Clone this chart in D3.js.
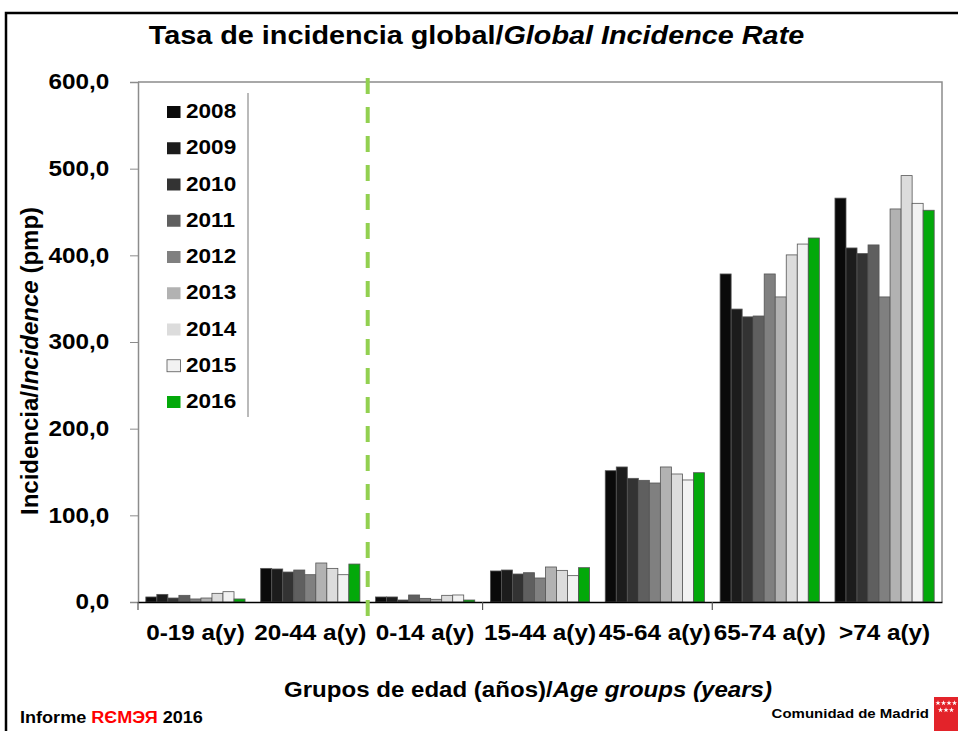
<!doctype html>
<html>
<head>
<meta charset="UTF-8">
<title>Tasa de incidencia global</title>
<style>
  body { margin: 0; background: #fff; }
  text { font-family: "Liberation Sans", Arial, sans-serif; }
</style>
</head>
<body onload="bars()">
<div id="chart"></div>
<script src="https://cdn.jsdelivr.net/npm/d3@7"></script>
<script>
// age groups on the x axis
var groups = ["0-19 a(y)", "20-44 a(y)", "0-14 a(y)", "15-44 a(y)", "45-64 a(y)", "65-74 a(y)", ">74 a(y)"];
var years = ["2008", "2009", "2010", "2011", "2012", "2013", "2014", "2015", "2016"];
var yearColors = ["#0a0a0a", "#1c1c1c", "#333333", "#5f5f5f", "#808080", "#b2b2b2", "#dcdcdc", "#f2f2f2", "#03a90a"];

// incidence (pmp) per year, one value per age group
var v2008 = [5.8, 38.8, 5.8, 35.8, 151.5, 378.5, 466.0];
var v2009 = [8.8, 38.1, 5.8, 36.9, 155.8, 338.0, 408.5];
var v2010 = [4.6, 34.6, 2.3, 32.3, 142.7, 329.0, 402.0];
var v2011 = [7.7, 36.9, 8.1, 33.8, 140.4, 330.0, 412.0];
var v2012 = [3.5, 31.5, 4.2, 27.7, 137.3, 378.5, 352.0];
var v2013 = [4.6, 45.0, 3.1, 40.4, 155.8, 352.0, 453.5];
var v2014 = [10.0, 38.8, 7.7, 36.5, 147.7, 400.5, 492.0];
var v2015 = [11.9, 31.5, 8.1, 30.4, 140.8, 413.0, 460.0];
var v2016 = [3.5, 43.8, 2.3, 39.6, 149.2, 420.0, 452.0];
var series = [v2008, v2009, v2010, v2011, v2012, v2013, v2014, v2015, v2016];

var yTicks = [0, 100, 200, 300, 400, 500, 600];

// the original text is a bit wider than Arial
var SX = 1.13;

function label(sel, x, y, anchor, size, parts, sx) {
  var g = sel.append("g")
    .attr("transform", "translate(" + x + "," + y + ") scale(" + (sx || SX) + ",1)");
  var t = g.append("text")
    .attr("text-anchor", anchor)
    .style("font-size", size + "px")
    .style("font-weight", "bold");
  parts.forEach(function(p) {
    t.append("tspan")
      .text(p[0])
      .style("font-style", p[1] ? "italic" : "normal")
      .attr("fill", p[2] || "#000");
  });
  return g;
}

function bars() {
  var W = 958, H = 731;
  var margin = {top: 82, right: 16, bottom: 129, left: 138},
      width = W - margin.left - margin.right,
      height = H - margin.top - margin.bottom;

  var svg = d3.select("#chart")
    .append("svg")
      .attr("width", W)
      .attr("height", H);

  svg.append("rect").attr("width", W).attr("height", H).attr("fill", "#fff");

  // outer frame (top and left visible)
  svg.append("path")
    .attr("d", "M6," + H + "V13H" + W)
    .attr("fill", "none")
    .attr("stroke", "#000")
    .attr("stroke-width", 2.5);

  var g = svg.append("g")
    .attr("transform", "translate(" + margin.left + "," + margin.top + ")");

  var x0 = d3.scaleBand()
    .domain(groups)
    .range([0, width])
    .padding(0);

  var x1 = d3.scaleBand()
    .domain(years)
    .range([0, x0.bandwidth()])
    .paddingInner(0)
    .paddingOuter(0.71);

  var y = d3.scaleLinear()
    .domain([0, 600])
    .range([height, 0]);

  // plot frame: top and right in grey
  g.append("path")
    .attr("d", "M0,0H" + width + "V" + height)
    .attr("fill", "none")
    .attr("stroke", "#8c8c8c")
    .attr("stroke-width", 1.5);

  // Y axis
  var yAxis = g.append("g")
    .call(d3.axisLeft(y)
      .tickValues(yTicks)
      .tickSize(8)
      .tickPadding(17.5)
      .tickFormat(function(d) { return d3.format(".1f")(d).replace(".", ","); }));
  yAxis.select(".domain").attr("stroke", "#8c8c8c").attr("stroke-width", 1.5);
  yAxis.selectAll(".tick line").attr("stroke", "#8c8c8c");
  yAxis.selectAll(".tick text")
    .attr("transform", "scale(" + SX + ",1)")
    .style("font-size", "21.5px")
    .style("font-weight", "bold")
    .attr("fill", "#000");

  // bars
  var grp = g.selectAll(".grp")
    .data(groups)
    .join("g")
      .attr("class", "grp")
      .attr("transform", function(d) { return "translate(" + x0(d) + ",0)"; });

  grp.selectAll("rect")
    .data(function(d, i) { return years.map(function(yr, j) { return {year: yr, j: j, value: series[j][i]}; }); })
    .join("rect")
      .attr("x", function(d) { return x1(d.year); })
      .attr("y", function(d) { return y(d.value); })
      .attr("width", x1.bandwidth())
      .attr("height", function(d) { return y(0) - y(d.value); })
      .attr("fill", function(d) { return yearColors[d.j]; })
      .attr("stroke", "#555")
      .attr("stroke-width", 0.8);

  // X axis with group labels
  var xAxis = g.append("g")
    .attr("transform", "translate(0," + height + ")")
    .call(d3.axisBottom(x0).tickSize(0).tickPadding(23));
  xAxis.select(".domain").attr("stroke", "#000").attr("stroke-width", 1.5);
  xAxis.selectAll(".tick text")
    .attr("transform", "scale(" + SX + ",1)")
    .style("font-size", "21.5px")
    .style("font-weight", "bold")
    .attr("fill", "#000");

  // tick marks between some groups
  var edges = [0, x0(groups[2]), x0(groups[3]), x0(groups[5])];
  g.selectAll(".edge")
    .data(edges)
    .join("line")
      .attr("class", "edge")
      .attr("x1", function(d) { return d; })
      .attr("x2", function(d) { return d; })
      .attr("y1", height)
      .attr("y2", height + 8)
      .attr("stroke", "#555")
      .attr("stroke-width", 1.2);

  // dashed separator between the two age scales
  g.append("line")
    .attr("x1", x0(groups[2]))
    .attr("x2", x0(groups[2]))
    .attr("y1", -4)
    .attr("y2", height + 14)
    .attr("stroke", "#92d050")
    .attr("stroke-width", 4)
    .attr("stroke-dasharray", "16,13");

  // legend
  var legend = svg.append("g");
  legend.append("line")
    .attr("x1", 248).attr("x2", 248)
    .attr("y1", 93).attr("y2", 417)
    .attr("stroke", "#8c8c8c")
    .attr("stroke-width", 1.2);
  years.forEach(function(yr, j) {
    var by = 118 + j * 36.25;
    legend.append("rect")
      .attr("x", 167).attr("y", by - 12)
      .attr("width", 13.5).attr("height", 12)
      .attr("fill", yearColors[j])
      .attr("stroke", j === 7 ? "#555" : "none")
      .attr("stroke-width", 0.8);
    label(legend, 186, by, "start", 20, [[yr, false]]);
  });

  // titles
  label(svg, 476.5, 44, "middle", 25.5, [["Tasa de incidencia global/", false], ["Global Incidence Rate", true]]);
  label(svg, 528, 697, "middle", 21.3, [["Grupos de edad (años)/", false], ["Age groups (years)", true]]);

  var yt = svg.append("text")
    .attr("transform", "translate(38,361) rotate(-90)")
    .attr("text-anchor", "middle")
    .style("font-size", "24px")
    .style("font-weight", "bold");
  yt.append("tspan").text("Incidencia/");
  yt.append("tspan").text("Incidence").style("font-style", "italic");
  yt.append("tspan").text(" (pmp)");

  // footer
  label(svg, 20, 723, "start", 16, [["Informe ", false], ["RЄMЭЯ", false, "#ff0000"], [" 2016", false]]);
  label(svg, 929, 718, "end", 12.5, [["Comunidad de Madrid", false]], 1.2);

  svg.append("rect")
    .attr("x", 934).attr("y", 697)
    .attr("width", 24).attr("height", 34)
    .attr("fill", "#e3232a");
  var star = d3.symbol().type(d3.symbolStar).size(9);
  var starPos = [[938, 703], [943.5, 703], [949, 703], [954.5, 703], [940.5, 710], [946, 710], [951.5, 710]];
  svg.selectAll(".star")
    .data(starPos)
    .join("path")
      .attr("class", "star")
      .attr("d", star)
      .attr("transform", function(d) { return "translate(" + d[0] + "," + d[1] + ")"; })
      .attr("fill", "#fff");
}
</script>
</body>
</html>
